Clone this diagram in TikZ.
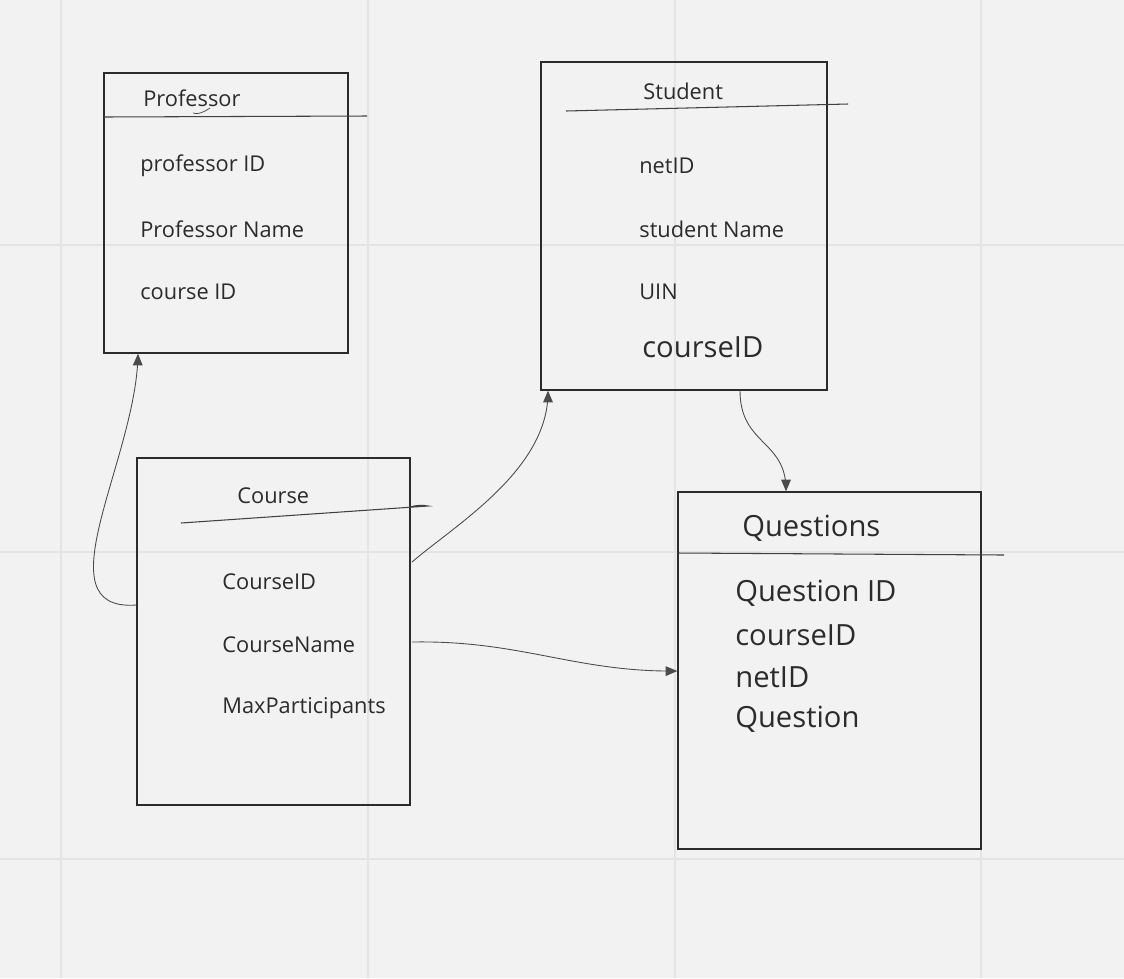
\documentclass[tikz,border=0pt]{standalone}
\usepackage{fontspec}
\setmainfont{Open Sans}
\usetikzlibrary{arrows,fit,calc}

\definecolor{paper}{HTML}{F2F2F2}
\definecolor{gridline}{HTML}{E4E4E4}
\definecolor{ink}{HTML}{2B2B2B}

\tikzset{
  box/.style={draw=ink, line width=0.8pt, inner sep=0pt},
  field/.style={anchor=west, inner sep=0pt, yshift=-0.04cm, text=ink, font=\fontsize{12.4}{14}\selectfont},
  bigfield/.style={field, font=\fontsize{16.6}{19}\selectfont},
  rule/.style={draw=ink!90, line width=0.6pt},
  link/.style={draw=ink!85, line width=0.5pt, ->, >=triangle 45},
}

\begin{document}
\begin{tikzpicture}[x=0.02cm, y=-0.02cm]
		% paper and grid
		\fill[paper] (0,0) rectangle (1124,978);
		\useasboundingbox (0,0) rectangle (1124,978);
		\foreach \gx in {61,368,675,981}
			\draw[gridline, line width=1.1pt] (\gx,0) -- (\gx,978);
		\foreach \gy in {245,552,859}
			\draw[gridline, line width=1.1pt] (0,\gy) -- (1124,\gy);

		% tables
		\node[box, fit={(104,73) (348,353)}] (prof) {};
		\node[box, fit={(541,62) (827,390)}] (stud) {};
		\node[box, fit={(137,458) (410,805)}] (course) {};
		\node[box, fit={(678,492) (981,849)}] (quest) {};

		% Professor
		\node[field] (profT) at (143,96) {Professor};
		\draw[rule] (104,117) -- (367,116);
		\draw[rule, line width=0.4pt] (193,113) .. controls (198,115) and (204,112) .. (210,108);
		\node[field] (profA) at (140,164) {professor ID};
		\node[field] (profB) at (140,227) {Professor Name};
		\node[field] (profC) at (140,290) {course ID};

		% Student
		\node[field] (studT) at (643,89) {Student};
		\draw[rule] (566,111) -- (848,104);
		\node[field] (studA) at (639,164) {netID};
		\node[field] (studB) at (639,227) {student Name};
		\node[field] (studC) at (639,290) {UIN};
		\node[bigfield] (studD) at (642,345) {courseID};

		% Course
		\node[field] (courseT) at (237,494) {Course};
		\draw[rule] (181,523) -- (428,506) .. controls (424,505) and (416,505) .. (410,507);
		\node[field] (courseA) at (222,580) {CourseID};
		\node[field] (courseB) at (222,643) {CourseName};
		\node[field] (courseC) at (222,706) {MaxParticipants};

		% Questions
		\node[bigfield] (questT) at (742,526) {Questions};
		\draw[rule] (678,553) -- (1004,555);
		\node[bigfield] (questA) at (735,591) {Question ID};
		\node[bigfield] (questB) at (735,633) {courseID};
		\node[bigfield] (questC) at (735,675) {netID};
		\node[bigfield] (questD) at (735,717) {Question};

		% links
		\draw[link] (course.west |- 0,605) .. controls (40,612) and (136,460) .. (prof.south -| 138,0);
		\draw[link] (412,562) .. controls (455,525) and (548,470) .. (stud.south -| 548,0);
		\draw[link] (stud.south -| 740,0) .. controls (740,445) and (786,440) .. (quest.north -| 786,0);
		\draw[link] (412,642) .. controls (520,640) and (575,672) .. (quest.west |- 0,671);
	\end{tikzpicture}
\end{document}
